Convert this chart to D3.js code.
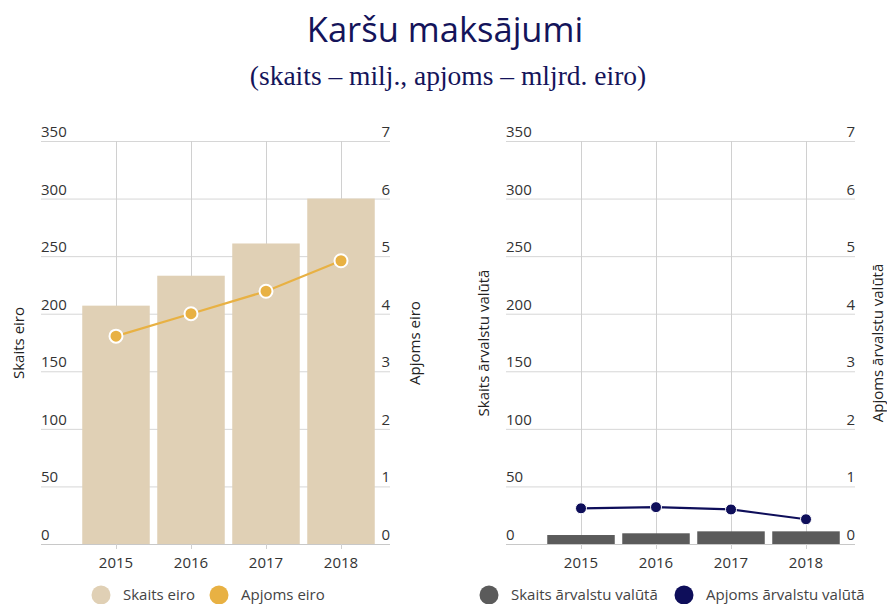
<!DOCTYPE html>
<html><head><meta charset="utf-8">
<script src="https://cdn.jsdelivr.net/npm/d3@7"></script>
<style>
body{margin:0;background:#fff;}
text{font-family:"Open Sans",sans-serif;}
</style></head>
<body>
<svg id="c" width="887" height="604"></svg>
<script>
const years = ["2015","2016","2017","2018"];
const skaitsEiro = [207, 233, 261, 300];
const apjomsEiro = [3.61, 4.0, 4.39, 4.92];
const skaitsArv = [7.8, 9.3, 11, 11];
const apjomsArv = [0.62, 0.64, 0.60, 0.43];
const leftTicks = [0,50,100,150,200,250,300,350];
const rightTicks = [0,1,2,3,4,5,6,7];

const svg = d3.select("#c");
svg.append("text").attr("x",445).attr("y",42).attr("text-anchor","middle")
  .style("font-size","34.5px").style("fill","#14145a").text("Karšu maksājumi");
svg.append("text").attr("x",448).attr("y",85).attr("text-anchor","middle")
  .style("font-family","'Liberation Serif','Times New Roman',serif")
  .style("font-size","27.5px").style("fill","#14145a").text("(skaits – milj., apjoms – mljrd. eiro)");

function panel(cfg){
  const g = svg.append("g");
  const yL = d3.scaleLinear().domain([0,350]).range([544,141]);
  const yR = d3.scaleLinear().domain([0,7]).range([544,141]);
  const x = d3.scaleBand().domain(years).range([cfg.bx0, cfg.bx0+300]).paddingInner(0.1).paddingOuter(0.05);
  g.selectAll(".hg").data(leftTicks).join("line")
    .attr("x1",cfg.gx0).attr("x2",cfg.gx1)
    .attr("y1",d=>yL(d)+0.5).attr("y2",d=>yL(d)+0.5)
    .attr("stroke",d=>d===0?"#c8c8c8":"#d6d6d6").attr("stroke-width",1);
  g.selectAll(".vg").data(years).join("line")
    .attr("x1",d=>Math.round(x(d)+x.bandwidth()/2)+0.5).attr("x2",d=>Math.round(x(d)+x.bandwidth()/2)+0.5)
    .attr("y1",yL(350)).attr("y2",yL(0)+5)
    .attr("stroke","#d0d0d0").attr("stroke-width",1);
  g.selectAll(".bar").data(cfg.bars).join("rect")
    .attr("x",(d,i)=>x(years[i])).attr("width",x.bandwidth())
    .attr("y",d=>yL(d)).attr("height",d=>yL(0)-yL(d))
    .attr("fill",cfg.barColor);
  const line = d3.line().x((d,i)=>x(years[i])+x.bandwidth()/2).y(d=>yR(d));
  g.append("path").datum(cfg.line).attr("d",line).attr("fill","none")
    .attr("stroke",cfg.lineColor).attr("stroke-width",2.2);
  g.selectAll(".pt").data(cfg.line).join("circle")
    .attr("cx",(d,i)=>x(years[i])+x.bandwidth()/2).attr("cy",d=>yR(d))
    .attr("r",cfg.ptR).attr("fill",cfg.lineColor)
    .attr("stroke","#fff").attr("stroke-width",cfg.ptStroke);
  g.selectAll(".tl").data(leftTicks).join("text")
    .attr("x",cfg.gx0).attr("y",d=>yL(d)-4)
    .style("font-size","15px").style("fill","#333").text(d=>d);
  g.selectAll(".tr").data(rightTicks).join("text")
    .attr("x",cfg.gx1).attr("y",d=>yR(d)-4).attr("text-anchor","end")
    .style("font-size","15px").style("fill","#333").text(d=>d);
  g.selectAll(".tx").data(years).join("text")
    .attr("x",d=>x(d)+x.bandwidth()/2).attr("y",568).attr("text-anchor","middle")
    .style("font-size","15px").style("fill","#333").text(d=>d);
  g.append("text").attr("transform",`translate(${cfg.tL},343) rotate(-90)`)
    .attr("text-anchor","middle").style("font-size","15px").style("fill","#222").text(cfg.titleL);
  g.append("text").attr("transform",`translate(${cfg.tR},343) rotate(-90)`)
    .attr("text-anchor","middle").style("font-size","15px").style("fill","#222").text(cfg.titleR);
  const lg = g.append("g");
  lg.append("circle").attr("cx",cfg.l1).attr("cy",595).attr("r",9.5).attr("fill",cfg.barColor);
  lg.append("text").attr("x",cfg.l1+22).attr("y",600).style("font-size","15px").style("fill","#444").text(cfg.titleL);
  lg.append("circle").attr("cx",cfg.l2).attr("cy",595).attr("r",9.5).attr("fill",cfg.lineColor);
  lg.append("text").attr("x",cfg.l2+22).attr("y",600).style("font-size","15px").style("fill","#444").text(cfg.titleR);
}

panel({gx0:41, gx1:390, bx0:78.5, bars:skaitsEiro, line:apjomsEiro,
  barColor:"#e0d0b5", lineColor:"#e8b143", ptR:6.5, ptStroke:2,
  tL:24, tR:420, titleL:"Skaits eiro", titleR:"Apjoms eiro", l1:101, l2:219});
panel({gx0:506, gx1:855, bx0:543.5, bars:skaitsArv, line:apjomsArv,
  barColor:"#5b5b5b", lineColor:"#0e0e5a", ptR:5.5, ptStroke:1,
  tL:489, tR:883, titleL:"Skaits ārvalstu valūtā", titleR:"Apjoms ārvalstu valūtā", l1:489, l2:684});
</script>
</body></html>
